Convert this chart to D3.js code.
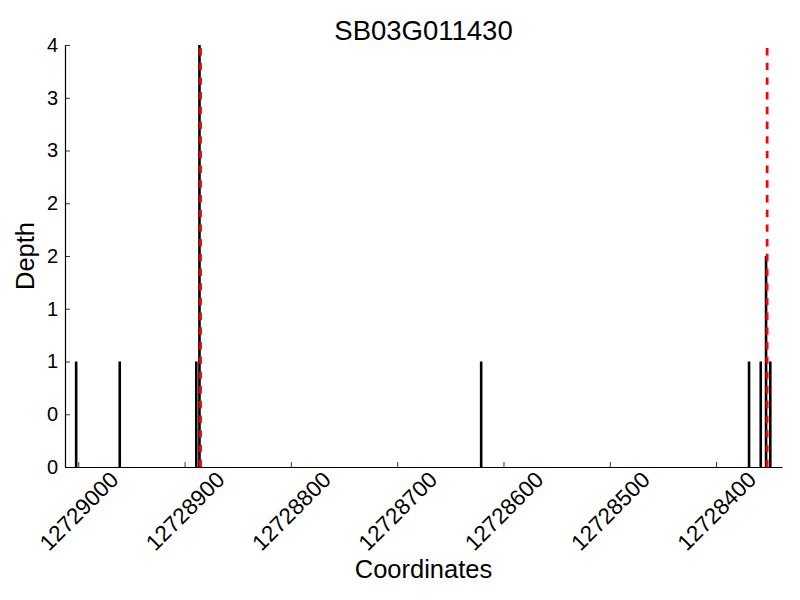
<!DOCTYPE html>
<html>
<head>
<meta charset="utf-8">
<script src="https://cdn.jsdelivr.net/npm/d3@7"></script>
<style>
  body { margin: 0; background: #fff; }
  svg text { font-family: "Liberation Sans", Arial, sans-serif; fill: #000; }
</style>
</head>
<body>
<svg width="800" height="600"></svg>
<script>
const title = "SB03G011430";
const positions = [12729002, 12728961, 12728889, 12728886, 12728621, 12728369, 12728358, 12728353, 12728349];
const depths = [1, 1, 1, 4, 1, 1, 1, 2, 1];
const markers = [12728885, 12728352];
const xTicks = [12729000, 12728900, 12728800, 12728700, 12728600, 12728500, 12728400];
const yTicks = [0, 0.5, 1, 1.5, 2, 2.5, 3, 3.5, 4];
const yTickLabels = ["0", "0", "1", "1", "2", "2", "3", "3", "4"];

const svg = d3.select("svg");
const plotLeft = 65, plotRight = 782, plotTop = 45, plotBottom = 467;

const x = d3.scaleLinear().domain([12729012.5, 12728338]).range([plotLeft, plotRight]);
const y = d3.scaleLinear().domain([0, 4]).range([plotBottom, plotTop]);

// bars drawn as thick vertical strokes
svg.append("g").selectAll("line")
  .data(positions.map((p, i) => ({ p, d: depths[i] })))
  .enter().append("line")
  .attr("x1", d => x(d.p)).attr("x2", d => x(d.p))
  .attr("y1", y(0)).attr("y2", d => y(d.d))
  .attr("stroke", "black")
  .attr("stroke-width", 2.6);

svg.append("g").selectAll("line")
  .data(markers)
  .enter().append("line")
  .attr("x1", d => x(d)).attr("x2", d => x(d))
  .attr("y1", y(0)).attr("y2", y(4))
  .attr("stroke", "red")
  .attr("stroke-width", 2.8)
  .attr("stroke-dasharray", "7.4,7.3");

const xAxis = svg.append("g")
  .attr("transform", `translate(0,${plotBottom})`)
  .call(d3.axisBottom(x).tickValues(xTicks).tickSize(-5).tickFormat(d3.format("d")).tickSizeOuter(0));
xAxis.select(".domain").attr("stroke-width", 1.2);
xAxis.selectAll(".tick line").attr("stroke-width", 0.8);
xAxis.selectAll("text")
  .attr("font-size", 22.5)
  .attr("text-anchor", "middle")
  .attr("x", 0).attr("y", 0)
  .attr("dy", "0.35em")
  .attr("transform", "translate(0,44) rotate(-45)");

const yAxis = svg.append("g")
  .attr("transform", `translate(${plotLeft},0)`)
  .call(d3.axisLeft(y).tickValues(yTicks).tickSize(-5).tickSizeOuter(0)
    .tickFormat((d, i) => yTickLabels[i]));
yAxis.select(".domain").attr("stroke-width", 1.2);
yAxis.selectAll(".tick line").attr("stroke-width", 0.8);
yAxis.selectAll("text").attr("font-size", 20).attr("x", -7);

svg.append("text")
  .attr("x", (plotLeft + plotRight) / 2).attr("y", 40)
  .attr("text-anchor", "middle")
  .attr("font-size", 27.5)
  .text(title);

svg.append("text")
  .attr("x", (plotLeft + plotRight) / 2).attr("y", 578)
  .attr("text-anchor", "middle")
  .attr("font-size", 25.5)
  .text("Coordinates");

svg.append("text")
  .attr("transform", `translate(34,${(plotTop + plotBottom) / 2}) rotate(-90)`)
  .attr("text-anchor", "middle")
  .attr("font-size", 25.5)
  .text("Depth");
</script>
</body>
</html>
